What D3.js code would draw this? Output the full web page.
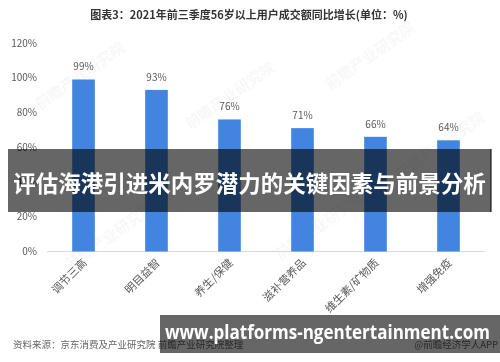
<!DOCTYPE html>
<html>
<head>
<meta charset="utf-8">
<script src="https://cdn.jsdelivr.net/npm/d3@7"></script>
<style>
  body { margin: 0; background: #fff; }
  svg { display: block; font-family: "Noto Sans CJK SC", "Noto Sans", sans-serif; }
</style>
</head>
<body>
<svg width="500" height="362"></svg>
<script>
const categories = ['调节三高', '明目益智', '养生/保健', '滋补营养品', '维生素/矿物质', '增强免疫']
const values = [99, 93, 76, 71, 66, 64]
const yTicks = [0, 20, 40, 60, 80, 100, 120]

const titleText = '图表3：2021年前三季度56岁以上用户成交额同比增长(单位：%)'
const sourceText = '资料来源：京东消费及产业研究院 前瞻产业研究院整理'
const brandText = '@前瞻经济学人APP'
const bannerText = '评估海港引进米内罗潜力的关键因素与前景分析'
const urlText = 'www.platforms-ngentertainment.com'

const svg = d3.select('svg')

const x = d3.scaleBand()
  .domain(categories)
  .range([47, 485])
  .paddingInner(0.69)
  .paddingOuter(0.345)

const y = d3.scaleLinear()
  .domain([0, 120])
  .range([251.5, 43])

// faint watermarks
const wm = svg.append('g').attr('fill', '#000').attr('opacity', 0.035)
  .attr('font-size', 15).attr('font-weight', 'bold')
const wmPos = [[40, 110], [190, 130], [330, 90], [70, 270], [280, 260], [400, 180]]
wm.selectAll('text')
  .data(wmPos)
  .enter()
  .append('text')
  .attr('transform', d => `translate(${d[0]},${d[1]}) rotate(-35)`)
  .text('前瞻产业研究院')

svg.append('text')
  .attr('x', 249)
  .attr('y', 19)
  .attr('text-anchor', 'middle')
  .attr('font-size', 11)
  .attr('font-weight', 'bold')
  .attr('fill', '#333')
  .text(titleText)

// y tick labels, no axis line
svg.append('g')
  .selectAll('text')
  .data(yTicks)
  .enter()
  .append('text')
  .attr('x', 37)
  .attr('y', d => y(d))
  .attr('dy', '0.35em')
  .attr('text-anchor', 'end')
  .attr('font-size', 10)
  .attr('fill', '#595959')
  .text(d => d + '%')

svg.append('line')
  .attr('x1', 47).attr('x2', 485)
  .attr('y1', y(0)).attr('y2', y(0))
  .attr('stroke', '#d9d9d9')

svg.append('g')
  .selectAll('rect')
  .data(values)
  .enter()
  .append('rect')
  .attr('x', (d, i) => x(categories[i]))
  .attr('y', d => y(d))
  .attr('width', x.bandwidth())
  .attr('height', d => y(0) - y(d))
  .attr('fill', '#4285e0')

svg.append('g')
  .selectAll('text')
  .data(values)
  .enter()
  .append('text')
  .attr('x', (d, i) => x(categories[i]) + x.bandwidth() / 2)
  .attr('y', d => y(d) - 9)
  .attr('text-anchor', 'middle')
  .attr('font-size', 10)
  .attr('fill', '#595959')
  .text(d => d + '%')

svg.append('g')
  .selectAll('text')
  .data(categories)
  .enter()
  .append('text')
  .attr('transform', d => `translate(${x(d) + x.bandwidth() / 2 + 4},${y(0) + 12}) rotate(-45)`)
  .attr('text-anchor', 'end')
  .attr('font-size', 11)
  .attr('fill', '#595959')
  .text(d => d)

svg.append('text')
  .attr('x', 13)
  .attr('y', 348)
  .attr('font-size', 9.5)
  .attr('fill', '#666')
  .text(sourceText)

svg.append('text')
  .attr('x', 498)
  .attr('y', 348)
  .attr('text-anchor', 'end')
  .attr('font-size', 9.5)
  .attr('fill', '#666')
  .text(brandText)

// overlay banners
svg.append('rect')
  .attr('x', 8).attr('y', 149)
  .attr('width', 483).attr('height', 63)
  .attr('fill', 'rgba(0,0,0,0.6)')
svg.append('line')
  .attr('x1', 491).attr('x2', 491)
  .attr('y1', 149).attr('y2', 212)
  .attr('stroke', '#000')
svg.append('text')
  .attr('x', 249.5)
  .attr('y', 192)
  .attr('text-anchor', 'middle')
  .attr('font-size', 22.5)
  .attr('font-weight', 'bold')
  .attr('fill', '#fff')
  .text(bannerText)

svg.append('rect')
  .attr('x', 160).attr('y', 315)
  .attr('width', 340).attr('height', 38)
  .attr('fill', 'rgba(0,0,0,0.6)')
svg.append('text')
  .attr('x', 165)
  .attr('y', 339)
  .attr('font-size', 20)
  .attr('font-weight', 'bold')
  .attr('font-family', '"Open Sans", sans-serif')
  .attr('textLength', 325)
  .attr('lengthAdjust', 'spacingAndGlyphs')
  .attr('fill', '#fff')
  .text(urlText)
</script>
</body>
</html>
